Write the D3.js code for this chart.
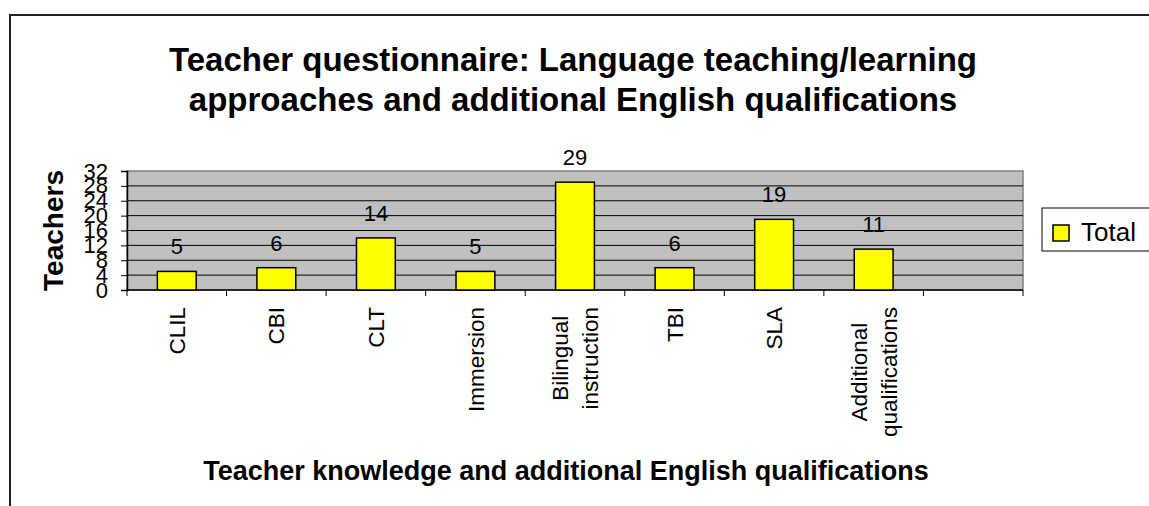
<!DOCTYPE html>
<html>
<head>
<meta charset="utf-8">
<script src="https://cdn.jsdelivr.net/npm/d3@7/dist/d3.min.js"></script>
<style>
  html, body { margin: 0; padding: 0; background: #fff; }
  svg { display: block; }
  text { font-family: "Liberation Sans", Arial, sans-serif; fill: #000; }
</style>
</head>
<body>
<svg id="chart" width="1149" height="506"></svg>
<script>
// ---- data ----
const categories = ["CLIL", "CBI", "CLT", "Immersion", "Bilingual instruction", "TBI", "SLA", "Additional qualifications", ""];
const totals = [5, 6, 14, 5, 29, 6, 19, 11, null];
const yTicks = [0, 4, 8, 12, 16, 20, 24, 28, 32];
const titleLines = ["Teacher questionnaire: Language teaching/learning", "approaches and additional English qualifications"];
const xTitle = "Teacher knowledge and additional English qualifications";
const yTitle = "Teachers";
const seriesName = "Total";

// ---- layout ----
const W = 1149, H = 506;
const plot = { left: 127, right: 1023, top: 171, bottom: 290 };

const svg = d3.select("#chart");

// outer frame (left + top edges visible)
svg.append("path")
  .attr("d", `M10,${H} L10,15 L${W},15`)
  .attr("fill", "none").attr("stroke", "#222").attr("stroke-width", 2);

// title
const title = svg.append("text").attr("text-anchor", "middle")
  .attr("font-weight", "bold").attr("font-size", 33);
titleLines.forEach((t, i) => {
  title.append("tspan").attr("x", 573).attr("y", 71 + i * 40).text(t);
});

const x = d3.scaleBand().domain(categories).range([plot.left, plot.right])
  .paddingInner(0.61).paddingOuter(0.305);
const y = d3.scaleLinear().domain([0, 32]).range([plot.bottom, plot.top]);

// plot background
svg.append("rect")
  .attr("x", plot.left).attr("y", plot.top)
  .attr("width", plot.right - plot.left).attr("height", plot.bottom - plot.top)
  .attr("fill", "#C0C0C0").attr("stroke", "#808080").attr("stroke-width", 1.5);

// gridlines
svg.append("g").selectAll("line").data(yTicks.filter(d => d > 0 && d < 32)).join("line")
  .attr("x1", plot.left).attr("x2", plot.right)
  .attr("y1", d => y(d)).attr("y2", d => y(d))
  .attr("stroke", "#000").attr("stroke-width", 1);

// y axis
const yAxis = svg.append("g").attr("transform", `translate(${plot.left},0)`)
  .call(d3.axisLeft(y).tickValues(yTicks).tickSize(6).tickPadding(13).tickFormat(d3.format("d")));
yAxis.select(".domain").attr("stroke", "#000").attr("stroke-width", 1.5);
yAxis.selectAll(".tick line").attr("stroke", "#000");
yAxis.selectAll(".tick text").attr("font-size", 22)
  .attr("font-family", '"Liberation Sans", Arial, sans-serif').attr("fill", "#000");

// x axis (ticks at category boundaries)
const step = x.step();
const bounds = d3.range(categories.length + 1).map(i => plot.left + i * step);
svg.append("line").attr("x1", plot.left).attr("x2", plot.right)
  .attr("y1", plot.bottom).attr("y2", plot.bottom).attr("stroke", "#000").attr("stroke-width", 1.5);
svg.append("g").selectAll("line").data(bounds).join("line")
  .attr("x1", d => d).attr("x2", d => d)
  .attr("y1", plot.bottom).attr("y2", plot.bottom + 6)
  .attr("stroke", "#000").attr("stroke-width", 1);

// bars
const data = categories.map((c, i) => ({ c, v: totals[i] })).filter(d => d.v != null);
svg.append("g").selectAll("rect").data(data).join("rect")
  .attr("x", d => x(d.c)).attr("y", d => y(d.v))
  .attr("width", x.bandwidth()).attr("height", d => y(0) - y(d.v))
  .attr("fill", "#FFFF00").attr("stroke", "#000").attr("stroke-width", 1.5);

// data labels
svg.append("g").selectAll("text").data(data).join("text")
  .attr("x", d => x(d.c) + x.bandwidth() / 2).attr("y", d => y(d.v) - 17)
  .attr("text-anchor", "middle").attr("font-size", 22).text(d => d.v);

// category labels (rotated, centered lines, block top-aligned)
const fs = 22.5, lh = 30, labelTop = 307;
categories.forEach(c => {
  if (!c) return;
  const lines = c.split(" ");
  const cx = x(c) + x.bandwidth() / 2;
  const g = svg.append("g").attr("transform", `translate(${cx},${labelTop}) rotate(-90)`);
  const texts = lines.map((ln, i) => g.append("text")
    .attr("font-size", fs).attr("text-anchor", "middle")
    .attr("y", (i - (lines.length - 1) / 2) * lh + 0.36 * fs).text(ln));
  const L = d3.max(texts, t => t.node().getComputedTextLength());
  texts.forEach(t => t.attr("x", -L / 2));
});

// axis titles
svg.append("text").attr("x", 566).attr("y", 480).attr("text-anchor", "middle")
  .attr("font-weight", "bold").attr("font-size", 27).text(xTitle);
svg.append("text").attr("transform", `translate(63,${(plot.top + plot.bottom) / 2}) rotate(-90)`)
  .attr("text-anchor", "middle").attr("font-weight", "bold").attr("font-size", 28).text(yTitle);

// legend
const lg = svg.append("g");
lg.append("rect").attr("x", 1042).attr("y", 208).attr("width", 120).attr("height", 43)
  .attr("fill", "#fff").attr("stroke", "#000").attr("stroke-width", 1);
lg.append("rect").attr("x", 1053).attr("y", 225).attr("width", 16).attr("height", 16)
  .attr("fill", "#FFFF00").attr("stroke", "#000").attr("stroke-width", 1.5);
lg.append("text").attr("x", 1081).attr("y", 241).attr("font-size", 26).text(seriesName);
</script>
</body>
</html>
